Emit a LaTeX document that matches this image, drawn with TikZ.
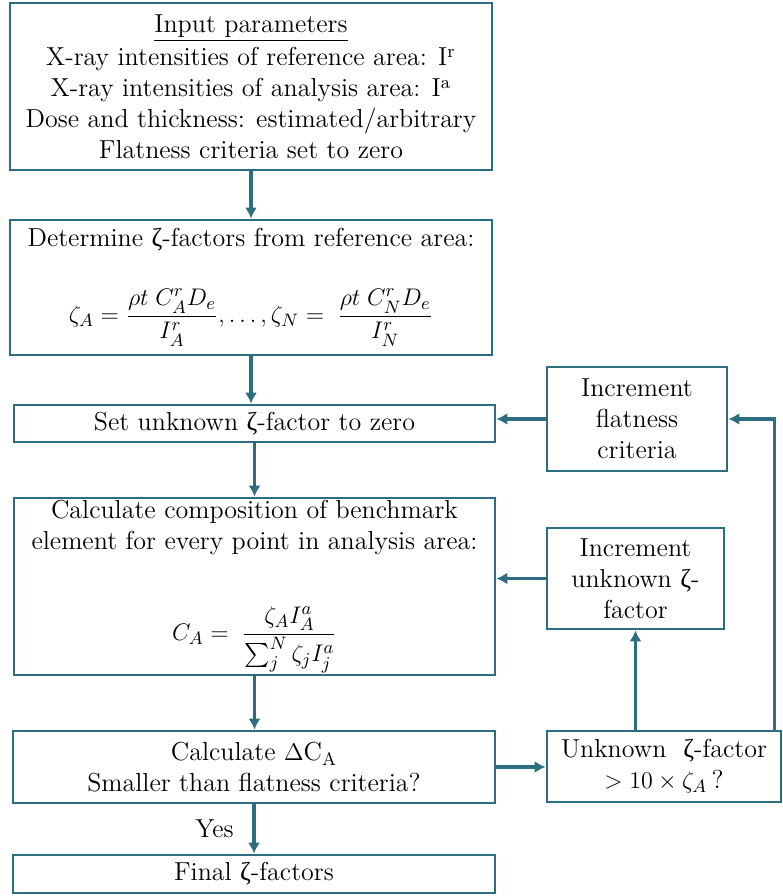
\documentclass[tikz,border=0pt]{standalone}
\usepackage{amsmath}
\usepackage{fontspec}
\newfontfamily\grkfont{Liberation Serif}
\newcommand{\zt}{{\grkfont ζ}}
\usetikzlibrary{arrows.meta}
\definecolor{flowteal}{RGB}{46,108,128}

\tikzset{
  box/.style={draw=flowteal, line width=1.4pt, align=center, inner sep=0pt,
    font=\fontsize{13}{15.4}\selectfont},
  arr/.style={draw=flowteal, line width=1.7pt, -{Latex[length=5.5pt,width=6pt]}},
}

\begin{document}
\begin{tikzpicture}[x=0.5pt,y=-0.5pt]
  \useasboundingbox (0,0) rectangle (783,896);

  % main column
  \node[box, minimum width=241pt, minimum height=83.5pt] (input) at (251,86.5)
    {\underline{Input parameters}\\[1.5pt]
     X-ray intensities of reference area: I$^{\mathrm{r}}$\\
     X-ray intensities of analysis area: I$^{\mathrm{a}}$\\
     Dose and thickness: estimated/arbitrary\\
     Flatness criteria set to zero};
  \node[box, minimum width=241pt, minimum height=67.5pt] (zeta) at (251,287.5)
    {Determine \zt-factors from reference area:\\[18pt]
     $\zeta_A=\dfrac{\rho t\;C_A^r D_e}{I_A^r}, \ldots, \zeta_N=\;\dfrac{\rho t\;C_N^r D_e}{I_N^r}$};
  \node[box, minimum width=240.5pt, minimum height=18.5pt] (setzero) at (254.5,423.5)
    {Set unknown \zt-factor to zero};
  \node[box, minimum width=240.5pt, minimum height=88.5pt] (calc) at (254.5,586.5)
    {Calculate composition of benchmark\\
     element for every point in analysis area:\\[25pt]
     $C_A=\;\dfrac{\zeta_A I_A^a}{\sum_j^N \zeta_j I_j^a}$};
  \node[box, minimum width=241pt, minimum height=36pt] (delta) at (254,767)
    {Calculate $\Delta$C$_{\mathrm{A}}$\\
     Smaller than flatness criteria?};
  \node[box, minimum width=241pt, minimum height=19pt] (final) at (254,874)
    {Final \zt-factors};

  % side column
  \node[box, minimum width=90pt, minimum height=52pt] (incflat) at (637,419)
    {Increment\\ flatness\\ criteria};
  \node[box, minimum width=88.5pt, minimum height=50.5pt] (inczeta) at (635.5,578.5)
    {Increment\\ unknown \zt-\\ factor};
  \node[box, minimum width=117pt, minimum height=35.5pt] (unknown) at (664,766.5)
    {Unknown \ \zt-factor\\ $>10\times\zeta_A$\,?};

  \draw[arr] (input.south) -- (input.south |- zeta.north);
  \draw[arr] (zeta.south) -- (zeta.south |- setzero.north);
  \draw[arr] (setzero.south) -- (setzero.south |- calc.north);
  \draw[arr] (calc.south) -- (calc.south |- delta.north);
  \draw[arr] (delta.south) -- node[left=6pt, font=\fontsize{13}{15}\selectfont]{Yes} (delta.south |- final.north);
  \draw[arr] (delta.east) -- (delta.east -| unknown.west);
  \draw[arr] (unknown.north -| inczeta.south) -- (inczeta.south);
  \draw[arr] ([xshift=-4pt]unknown.north east) |- (incflat.east);
  \draw[arr] (inczeta.west) -- (inczeta.west -| calc.east);
  \draw[arr] (incflat.west) -- (incflat.west -| setzero.east);
\end{tikzpicture}
\end{document}
